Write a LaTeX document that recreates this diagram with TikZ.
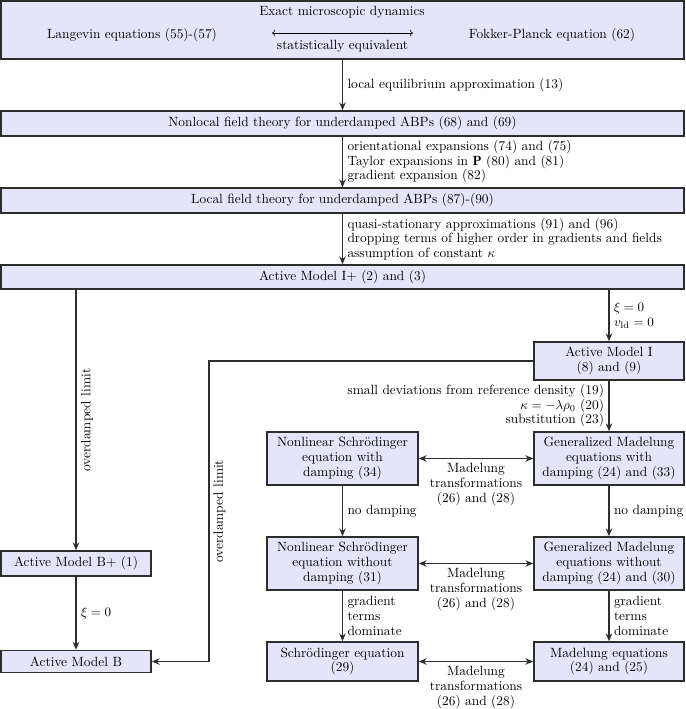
\documentclass[tikz,border=0pt]{standalone}
\usepackage{fontspec}
\usetikzlibrary{arrows.meta,calc}
\definecolor{boxfill}{RGB}{229,229,250}
\definecolor{boxline}{RGB}{45,45,45}
\begin{document}
\begin{tikzpicture}[x=0.7657pt, y=-0.7657pt,
  font=\fontsize{10.25}{11.2}\selectfont,
  box/.style={draw=boxline, fill=boxfill, line width=1.2pt, rectangle, inner sep=0pt, align=center},
  sized/.style 2 args={minimum width=#1*0.7657pt, minimum height=#2*0.7657pt},
  arr/.style={draw=boxline, line width=1pt, -{Stealth[length=6pt,width=5pt]}},
  dbl/.style={draw=boxline, line width=1pt, {Stealth[length=6pt,width=5pt]}-{Stealth[length=6pt,width=5pt]}},
  lbl/.style={midway, inner sep=3.33pt}
]
\useasboundingbox (0,0) rectangle (685,709);

% top box
\node[box, sized={683}{58}] (micro) at (342.5,30) {};
\node (exact) at (342,12) {Exact microscopic dynamics};
\node (lang) at (132,35) {Langevin equations (55)-(57)};
\node (fp) at (552,35) {Fokker-Planck equation (62)};
\coordinate (eqL) at (272,33);
\coordinate (eqR) at (413,33);
\draw[thin, <->] (eqL) -- (eqR) node[midway, below=2pt] {statistically equivalent};

% full-width boxes
\node[box, sized={683}{25}] (nonlocal) at (342.5,123.5) {Nonlocal field theory for underdamped ABPs (68) and (69)};
\node[box, sized={683}{25}] (local) at (342.5,200.5) {Local field theory for underdamped ABPs (87)-(90)};
\node[box, sized={683}{24}] (amip) at (342.5,277) {Active Model I+ (2) and (3)};

% right column
\node[box, sized={150}{38}] (ami) at (609,361) {Active Model I\\(8) and (9)};
\node[box, sized={151}{53}] (nlsd) at (342.5,458.5) {Nonlinear Schrödinger\\equation with\\damping (34)};
\node[box, sized={150}{53}] (gmd) at (609,458.5) {Generalized Madelung\\equations with\\damping (24) and (33)};
\node[box, sized={151}{53}] (nls) at (342.5,563.5) {Nonlinear Schrödinger\\equation without\\damping (31)};
\node[box, sized={150}{53}] (gm) at (609,563.5) {Generalized Madelung\\equations without\\damping (24) and (30)};
\node[box, sized={151}{39}] (sch) at (342.5,661.5) {Schrödinger equation\\(29)};
\node[box, sized={150}{39}] (mad) at (609,661.5) {Madelung equations\\(24) and (25)};

% left column
\node[box, sized={150}{25}] (ambp) at (76,563.5) {Active Model B+ (1)};
\node[box, sized={150}{22}] (amb) at (76,661.5) {Active Model B};

% connectors
\draw[arr] (micro) -- (nonlocal) node[lbl, right] {local equilibrium approximation (13)};
\draw[arr] (nonlocal) -- (local) node[lbl, right, align=left] {orientational expansions (74) and (75)\\Taylor expansions in $\mathbf{P}$ (80) and (81)\\gradient expansion (82)};
\draw[arr] (local) -- (amip) node[lbl, right, align=left] {quasi-stationary approximations (91) and (96)\\dropping terms of higher order in gradients and fields\\assumption of constant $\kappa$};

\draw[arr] (amip.south -| ambp) -- (ambp) node[lbl, rotate=90, anchor=north] {overdamped limit};
\draw[arr] (amip.south -| ami) -- (ami) node[lbl, right, align=left] {$\xi = 0$\\$v_{\mathrm{ld}} = 0$};

\coordinate (turn) at (209,500);
\draw[arr] (ami.west) -| (turn) |- (amb.east);
\path (ami.west -| turn) -- (turn |- amb) node[lbl, rotate=90, anchor=north] {overdamped limit};

\draw[arr] (ami) -- (gmd) node[lbl, left, align=right] {small deviations from reference density (19)\\$\kappa = -\lambda\rho_0$ (20)\\substitution (23)};
\draw[dbl] (nlsd) -- (gmd) node[lbl, below, align=center] {Madelung\\transformations\\(26) and (28)};
\draw[arr] (nlsd) -- (nls) node[lbl, right] {no damping};
\draw[arr] (gmd) -- (gm) node[lbl, right] {no damping};
\draw[dbl] (nls) -- (gm) node[lbl, below, align=center] {Madelung\\transformations\\(26) and (28)};
\draw[arr] (nls) -- (sch) node[lbl, right, align=left] {gradient\\terms\\dominate};
\draw[arr] (gm) -- (mad) node[lbl, right, align=left] {gradient\\terms\\dominate};
\draw[dbl] (sch) -- (mad) node[lbl, below, align=center] {Madelung\\transformations\\(26) and (28)};
\draw[arr] (ambp) -- (amb) node[lbl, right] {$\xi = 0$};
\end{tikzpicture}
\end{document}
